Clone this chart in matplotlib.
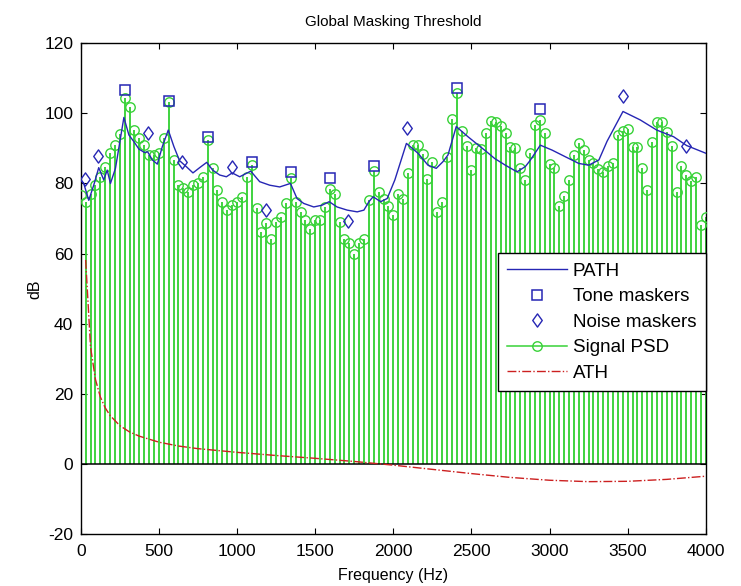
import numpy as np
import matplotlib
matplotlib.use("Agg")
import matplotlib.pyplot as plt
from matplotlib.lines import Line2D
from matplotlib.path import Path
from matplotlib.legend_handler import HandlerLine2D

plt.rcParams['font.family'] = ['Liberation Sans', 'DejaVu Sans']
plt.rcParams['axes.unicode_minus'] = False

# ---------------- data ----------------
bin_hz = 31.25
psd_db = [76.6, 74.7, 77.1, 79.5, 81.9, 84.7, 88.6, 91.0, 94.0, 104.3, 101.9,
          95.2, 92.8, 90.9, 88.0, 88.0, 88.6, 92.8, 103.3, 86.6, 79.5,
          78.6, 77.6, 79.5, 80.0, 81.9, 92.4, 84.3, 78.0, 74.8, 72.4,
          73.8, 74.8, 76.2, 81.9, 85.2, 72.9, 66.2, 68.6, 64.3, 69.1,
          70.5, 74.3, 81.5, 74.7, 71.9, 69.5, 67.1, 69.5, 69.5, 73.3,
          78.3, 77.1, 69.0, 64.3, 62.9, 60.0, 62.9, 64.3, 75.2, 83.5,
          77.6, 75.7, 73.5, 70.9, 77.1, 75.5, 82.9, 91.0, 91.0, 88.5,
          81.2, 86.0, 71.9, 74.8, 87.4, 98.3, 105.9, 94.8, 90.7, 83.8,
          90.0, 89.7, 94.5, 97.8, 97.5, 96.5, 94.5, 90.3, 90.0, 84.3,
          81.0, 88.6, 96.6, 98.1, 94.5, 85.5, 84.5, 73.5, 76.5, 81.0,
          88.0, 91.6, 89.5, 86.7, 85.7, 84.0, 83.3, 85.0, 85.7, 93.8,
          95.0, 95.5, 90.3, 90.3, 84.5, 78.0, 91.9, 97.6, 97.6, 94.7,
          90.7, 77.6, 85.0, 82.3, 80.7, 81.9, 68.3, 70.5]
psd_freq = np.arange(len(psd_db)) * bin_hz

tone_freq = [281.25, 562.5, 812.5, 1093.75, 1343.75, 1593.75, 1875.0, 2406.25, 2937.5]
tone_db = [106.7, 103.6, 93.3, 86.2, 83.3, 81.6, 85.0, 107.1, 101.2]

noise_freq = [25, 113, 430, 650, 965, 1188, 1712, 2086, 3470, 3876]
noise_db = [81.4, 87.8, 94.4, 86.0, 84.6, 72.4, 69.2, 95.7, 104.9, 90.7]

path_freq = [0, 19, 51, 83, 115, 147, 169, 190, 222, 276, 308, 340, 372, 408, 428,
             458, 490, 522, 560, 596, 632, 675, 718, 761, 806, 844, 889, 932, 969,
             1017, 1088, 1145, 1209, 1273, 1342, 1384, 1427, 1491, 1544, 1590, 1640,
             1705, 1769, 1812, 1844, 1871, 1919, 1961, 2010, 2084, 2158, 2222, 2275,
             2318, 2350, 2403, 2478, 2542, 2598, 2649, 2717, 2792, 2845, 2875, 2941,
             3016, 3101, 3187, 3251, 3316, 3368, 3470, 3580, 3686, 3794, 3877, 4000]
path_db = [81.0, 80.0, 75.2, 79.5, 84.5, 81.0, 83.8, 80.0, 84.3, 98.8, 93.8, 91.9,
           89.8, 88.8, 89.0, 86.7, 85.5, 90.5, 95.2, 90.5, 86.5, 84.8, 83.0, 84.5,
           86.0, 83.8, 82.4, 81.9, 83.0, 81.9, 83.5, 80.5, 79.5, 79.0, 80.0, 75.7,
           74.3, 73.3, 73.8, 74.8, 73.3, 72.4, 71.9, 72.4, 74.8, 76.2, 74.8, 75.7,
           81.0, 91.4, 88.6, 85.2, 84.3, 86.2, 88.1, 96.2, 93.3, 91.0, 89.0, 87.1,
           85.2, 83.3, 84.8, 86.5, 90.9, 89.5, 87.6, 85.7, 85.2, 86.7, 92.0, 100.5,
           98.1, 95.2, 93.3, 90.8, 88.6]

ath_freq = [31.25, 62.5, 93.75, 125, 156.25, 187.5, 250, 312.5, 375, 500, 625, 750,
            1000, 1250, 1500, 1750, 2000, 2250, 2500, 2750, 3000, 3250, 3500, 3750, 4000]
ath_db = [58.2, 33.4, 24.2, 19.2, 16.1, 13.9, 11.0, 9.2, 8.0, 6.3, 5.2, 4.45,
          3.4, 2.5, 1.7, 0.8, -0.25, -1.45, -2.65, -3.75, -4.55, -4.95, -4.85, -4.3, -3.4]

x_ticks = [0, 500, 1000, 1500, 2000, 2500, 3000, 3500, 4000]
y_ticks = [-20, 0, 20, 40, 60, 80, 100, 120]

# ---------------- style ----------------
c_blue = '#2626b4'
c_green = '#38d238'
c_red = '#cc2020'

# MATLAB-like diamond (wider than matplotlib's thin diamond)
diamond = Path([(0, 1), (0.72, 0), (0, -1), (-0.72, 0), (0, 1)],
               [Path.MOVETO, Path.LINETO, Path.LINETO, Path.LINETO, Path.CLOSEPOLY])

fig = plt.figure(figsize=(7.41, 5.86), dpi=100)
ax = fig.add_axes([0.109, 0.0879, 0.8435, 0.8387])

ax.vlines(psd_freq, 0, psd_db, colors=c_green, linewidth=1.35, zorder=2)
ax.axhline(0, color='black', linewidth=1.1, zorder=3)
ax.plot(psd_freq, psd_db, linestyle='none', marker='o', markersize=6.8,
        markerfacecolor='none', markeredgecolor=c_green, markeredgewidth=1.0, zorder=4)
ax.plot(path_freq, path_db, color=c_blue, linewidth=1.0, zorder=5)
ax.plot(tone_freq, tone_db, linestyle='none', marker='s', markersize=7.8,
        markerfacecolor='none', markeredgecolor=c_blue, markeredgewidth=1.1, zorder=6)
ax.plot(noise_freq, noise_db, linestyle='none', marker=diamond, markersize=9.5,
        markerfacecolor='none', markeredgecolor=c_blue, markeredgewidth=1.0, zorder=6)
ax.plot(ath_freq, ath_db, color=c_red, linestyle='-.', linewidth=1.0, zorder=5)

ax.set_xlim(0, 4000)
ax.set_ylim(-20, 120)
ax.set_xticks(x_ticks)
ax.set_yticks(y_ticks)
ax.tick_params(direction='in', length=4.5, width=0.8, top=True, right=True,
               labelsize=12.5)
ax.tick_params(axis='x', pad=6.5)
ax.tick_params(axis='y', pad=5.5)
for s in ax.spines.values():
    s.set_linewidth(1.0)

ax.set_title('Global Masking Threshold', fontsize=11, pad=12)
ax.set_xlabel('Frequency (Hz)', fontsize=11.5)
ax.set_ylabel('dB', fontsize=11.5)
ax.xaxis.set_label_coords(0.5, -0.068)
ax.yaxis.set_label_coords(-0.062, 0.5)


class EndMarker(HandlerLine2D):
    def get_xdata(self, legend, xdescent, ydescent, width, height, fontsize):
        xdata = np.array([-xdescent, -xdescent + width])
        xm = np.array([-xdescent + width * 0.85])
        return xdata, xm


h_path = Line2D([], [], color=c_blue, linewidth=1.0)
h_tone = Line2D([], [], linestyle='none', marker='s', markersize=7.8,
                markerfacecolor='none', markeredgecolor=c_blue, markeredgewidth=1.1)
h_noise = Line2D([], [], linestyle='none', marker=diamond, markersize=9.5,
                 markerfacecolor='none', markeredgecolor=c_blue, markeredgewidth=1.0)
h_psd = Line2D([], [], color=c_green, linewidth=1.1, marker='o', markersize=6.8,
               markerfacecolor='none', markeredgecolor=c_green)
h_ath = Line2D([], [], color=c_red, linestyle='-.', linewidth=1.0)

leg = ax.legend([h_path, h_tone, h_noise, h_psd, h_ath],
                ['PATH', 'Tone maskers', 'Noise maskers', 'Signal PSD', 'ATH'],
                loc='upper right', bbox_to_anchor=(1.0, 0.5726), borderaxespad=0,
                fontsize=13.5, numpoints=1, handlelength=3.2, handletextpad=0.3,
                labelspacing=0.45, borderpad=0.5, fancybox=False, framealpha=1,
                edgecolor='black', handler_map={h_psd: EndMarker()})
leg.get_frame().set_linewidth(1.0)
leg.set_zorder(10)

fig.savefig('out.png', dpi=100)
